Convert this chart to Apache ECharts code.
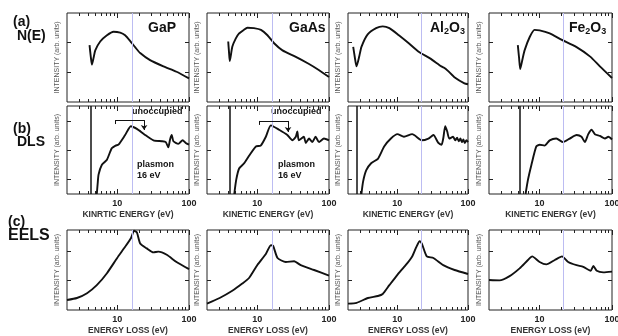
<!DOCTYPE html>
<html>
<head>
<meta charset="utf-8">
<script src="https://cdn.jsdelivr.net/npm/echarts@6/dist/echarts.min.js"></script>
<style>
  html, body { margin: 0; padding: 0; background: #fff; }
  #main { width: 618px; height: 336px; }
</style>
</head>
<body>
<div id="main"></div>
<script>
// materials, one per column
const materials = ['GaP', 'GaAs', 'Al2O3', 'Fe2O3'];
const plasmonEnergy = [16, 16, 21.5, 21.5];
const dlsCutoff = [4.35, 4.2, 2.64, 5.27];
const unoccupiedRange = [[9.4, 23.7], [10.7, 26.9]];

// tick values
const xMajorTicks = [10, 100];
const xMinorTicks = [3, 4, 5, 6, 7, 8, 9, 20, 30, 40, 50, 60, 70, 80, 90];
const yTicksNE = [33, 67];
const yTicksDLS = [17, 50, 83];
const yTicksEELS = [37, 73];

// (a) N(E)  [energy eV, intensity]
const neGaP = [[4.12,64],[4.3,50],[4.45,42],[4.7,50],[4.95,58],[5.8,68],[7.2,75],[8.9,79],[11,78],[12.9,75],[15.2,68.5],[18,61],[20.9,55],[28.7,47],[44,40],[67,34],[100,26.5]];
const neGaAs = [[3.95,68],[4.05,56],[4.15,46],[4.5,62],[5,71],[5.6,77],[6.5,81],[7.3,83.5],[9,83],[11.3,81],[13.9,75],[17.2,66],[22.5,58],[34,51],[52,43],[72,36],[100,28]];
const neAl2O3 = [[2.37,62],[2.5,50],[2.64,40],[2.9,52],[3.1,62],[3.8,76],[5,83],[6.2,85],[7.7,83],[10.5,75],[14.5,66],[20,56.5],[29,49],[42,40],[46,38.5],[52,35],[65,27.5],[89,21],[100,20]];
const neFe2O3 = [[5.0,64],[5.2,50],[5.4,37],[5.8,48],[6.2,58],[7.3,73],[8.5,81],[10,80.5],[13.8,77],[20,70],[32,62],[50,51],[68,40],[100,27]];

// (b) DLS
const dlsGaP = [[5.2,0],[5.35,12],[5.5,22],[6.1,33],[7.2,39],[8.4,52],[9.5,55],[10.4,56],[12.9,67],[15.5,77],[18.8,74],[23.7,68],[32,61],[42,60],[47.5,59],[51.5,53],[54.5,62],[57.5,67],[60.6,60],[71,57],[81.6,61],[90,58],[100,56]];
const dlsGaAs = [[4.8,0],[5.1,16],[5.6,29],[6.6,35],[7.8,44],[9.6,54],[11.2,55],[13.2,65],[15.5,78],[20.2,73],[26.3,67],[30.9,61],[34.5,65],[36.2,71],[38,61],[44.6,65],[47.5,58],[52.7,63],[58.6,59],[65,65],[72.6,59],[85,63],[100,61]];
const dlsAl2O3 = [[3.1,0],[3.27,14],[3.63,27],[4.25,35],[5.3,40],[6.5,54],[8.1,63],[10,68],[12.4,65],[16.2,68],[22.2,61],[27.5,63],[32.4,67],[38,58],[42.2,56],[44.6,63],[47.6,77],[50.8,71],[54.2,63],[61.6,65],[66,61],[70,64],[74,60],[78,63],[82,59],[86,62],[90,58],[95,61],[100,59]];
const dlsFe2O3 = [[6.4,0],[6.9,16],[7.7,33],[9.0,54],[10,56],[11.7,55],[13.8,61],[17,63],[21.1,59],[26.1,63],[32.4,67],[37.9,65],[42.2,59],[47,68],[52.3,73],[58,68],[68,66],[80,63],[89,65],[100,62]];

// (c) EELS
const eelsGaP = [[2.0,12.5],[2.75,15],[3.8,21],[5.2,31],[7.2,46],[10,65],[12.9,79],[15.6,90],[17.2,99],[18.8,97],[20.9,83],[25.8,77],[31.9,72],[37.5,73],[49,69],[67,60],[100,51]];
const eelsGaAs = [[2.0,8],[3.0,15],[4.5,24],[6.2,33],[7.7,40],[10,56],[13.2,70],[15.5,81],[16.7,80],[19.2,65],[25,60],[32.7,61],[40.4,56],[62,50],[100,43]];
const eelsAl2O3 = [[2.0,8],[2.65,9],[3.83,15],[5.3,17.5],[6.2,20],[7.7,31],[10,44],[13.1,56],[16.2,67],[18.6,79],[20.7,86],[22.2,83],[26.1,67],[32.4,65],[44.6,56],[64.6,50],[100,45]];
const eelsFe2O3 = [[2.0,37.5],[2.8,37],[3.8,42],[5.3,52],[6.9,62.5],[7.9,67],[10,60],[12.4,57],[16.2,62.5],[20.4,67],[24.8,60],[32.4,56],[40.1,54],[50.7,49],[55.3,55],[61.6,49],[76,47],[100,48]];

const spectra = [
  [neGaP, neGaAs, neAl2O3, neFe2O3],
  [dlsGaP, dlsGaAs, dlsAl2O3, dlsFe2O3],
  [eelsGaP, eelsGaAs, eelsAl2O3, eelsFe2O3]
];

const FONT = 'Liberation Sans, Arial, sans-serif';
const rows = [
  {top: 13, height: 89, yTicks: yTicksNE, names: null},
  {top: 106, height: 88, yTicks: yTicksDLS,
   names: ['KINRTIC ENERGY (eV)', 'KINETIC ENERGY (eV)', 'KINETIC ENERGY (eV)', 'KINETIC ENERGY (eV)']},
  {top: 230, height: 80, yTicks: yTicksEELS,
   names: ['ENERGY LOSS (eV)', 'ENERGY LOSS (eV)', 'ENERGY LOSS (eV)', 'ENERGY LOSS (eV)']}
];
const cols = [{left: 67, width: 122}, {left: 207, width: 122}, {left: 348, width: 120}, {left: 489, width: 123}];

const grid = [], xAxis = [], yAxis = [], series = [];
const tickLine = {color: '#222', width: 1};

rows.forEach((row, r) => {
  cols.forEach((col, c) => {
    const gi = grid.length;
    grid.push({
      left: col.left, top: row.top, width: col.width, height: row.height,
      show: true, borderColor: '#222', borderWidth: 1, backgroundColor: 'transparent',
      containLabel: false, outerBoundsMode: 'none'
    });
    const base = {
      type: 'log', logBase: 10, min: 2, max: 100, gridIndex: gi,
      axisLine: {show: false}, splitLine: {show: false}, minorTick: {show: false}
    };
    // bottom main
    xAxis.push(Object.assign({}, base, {
      position: 'bottom',
      axisTick: {inside: true, length: 5, lineStyle: tickLine, customValues: xMajorTicks},
      axisLabel: {show: !!row.names, customValues: xMajorTicks, margin: 5,
        fontSize: 9, fontWeight: 'bold', color: '#222', fontFamily: FONT},
      name: row.names ? row.names[c] : '', nameLocation: 'middle', nameGap: 16,
      nameMoveOverlap: false,
      nameTextStyle: {fontSize: 8.5, fontWeight: 'bold', color: '#333', fontFamily: FONT}
    }));
    // bottom minor
    xAxis.push(Object.assign({}, base, {
      position: 'bottom',
      axisTick: {inside: true, length: 3, lineStyle: tickLine, customValues: xMinorTicks},
      axisLabel: {show: false}
    }));
    // top main
    xAxis.push(Object.assign({}, base, {
      position: 'top',
      axisTick: {inside: true, length: 5, lineStyle: tickLine, customValues: xMajorTicks},
      axisLabel: {show: false}
    }));
    // top minor
    xAxis.push(Object.assign({}, base, {
      position: 'top',
      axisTick: {inside: true, length: 3, lineStyle: tickLine, customValues: xMinorTicks},
      axisLabel: {show: false}
    }));
    const ybase = {
      type: 'value', min: 0, max: 100, gridIndex: gi,
      axisLine: {show: false}, splitLine: {show: false}, axisLabel: {show: false},
      axisTick: {inside: true, length: 4, lineStyle: tickLine, customValues: row.yTicks}
    };
    yAxis.push(Object.assign({}, ybase, {
      position: 'left',
      name: 'INTENSITY (arb. units)', nameLocation: 'middle', nameGap: 6,
      nameMoveOverlap: false,
      nameTextStyle: {fontSize: 7, color: '#555', fontFamily: FONT}
    }));
    yAxis.push(Object.assign({}, ybase, {position: 'right'}));

    const mark = [{xAxis: plasmonEnergy[c], lineStyle: {color: '#bcbcf2', width: 1, type: 'solid'}}];
    if (r === 1) {
      mark.push({xAxis: dlsCutoff[c], lineStyle: {color: '#111', width: 1.5, type: 'solid'}});
      if (c < 2) {
        const [e0, e1] = unoccupiedRange[c];
        const yb = c === 0 ? 84 : 83;
        const ya = c === 0 ? 72.7 : 70.5;
        const blk = {color: '#111', width: 1, type: 'solid'};
        mark.push([{coord: [e0, yb], lineStyle: blk}, {coord: [e1, yb]}]);
        mark.push([{coord: [e0, yb], lineStyle: blk}, {coord: [e0, yb - 4.5]}]);
        mark.push([{coord: [e1, yb], lineStyle: blk}, {coord: [e1, ya], symbol: 'arrow', symbolSize: 5}]);
      }
    }
    series.push({
      type: 'line', xAxisIndex: 4 * gi, yAxisIndex: 2 * gi,
      data: spectra[r][c], smooth: 0.2, symbol: 'none', clip: true,
      lineStyle: {color: '#111', width: 1.9},
      markLine: {silent: true, symbol: ['none', 'none'], label: {show: false},
        animation: false, emphasis: {disabled: true}, data: mark}
    });
  });
});

const bold = {fontFamily: FONT, fontWeight: 'bold', fill: '#111'};
function txt(x, y, text, size) {
  return {type: 'text', left: x, top: y, style: Object.assign({text: text, fontSize: size}, bold)};
}
function formula(x, y, parts) {
  return {type: 'text', left: x, top: y, style: Object.assign({
    text: parts, fontSize: 14,
    rich: {n: {fontSize: 14, fontWeight: 'bold', fontFamily: FONT},
           s: {fontSize: 9, fontWeight: 'bold', fontFamily: FONT, verticalAlign: 'bottom', padding: [8, 0, 0, 0]}}
  }, bold)};
}

const graphic = [
  txt(13, 15, '(a)', 14), txt(17, 29, 'N(E)', 14),
  txt(13, 122, '(b)', 14), txt(17, 135, 'DLS', 14),
  txt(8, 215, '(c)', 14), txt(8, 228, 'EELS', 16),
  txt(148, 21, materials[0], 14), txt(289, 21, materials[1], 14),
  formula(430, 21, '{n|Al}{s|2}{n|O}{s|3}'),
  formula(569, 21, '{n|Fe}{s|2}{n|O}{s|3}'),
  txt(132, 107, 'unoccupied', 9), txt(137, 160, 'plasmon', 9), txt(137, 171, '16 eV', 9),
  txt(271, 107, 'unoccupied', 9), txt(278, 160, 'plasmon', 9), txt(278, 171, '16 eV', 9)
];

const chart = echarts.init(document.getElementById('main'));
chart.setOption({
  animation: false,
  backgroundColor: '#fff',
  grid, xAxis, yAxis, series, graphic
});
</script>
</body>
</html>
